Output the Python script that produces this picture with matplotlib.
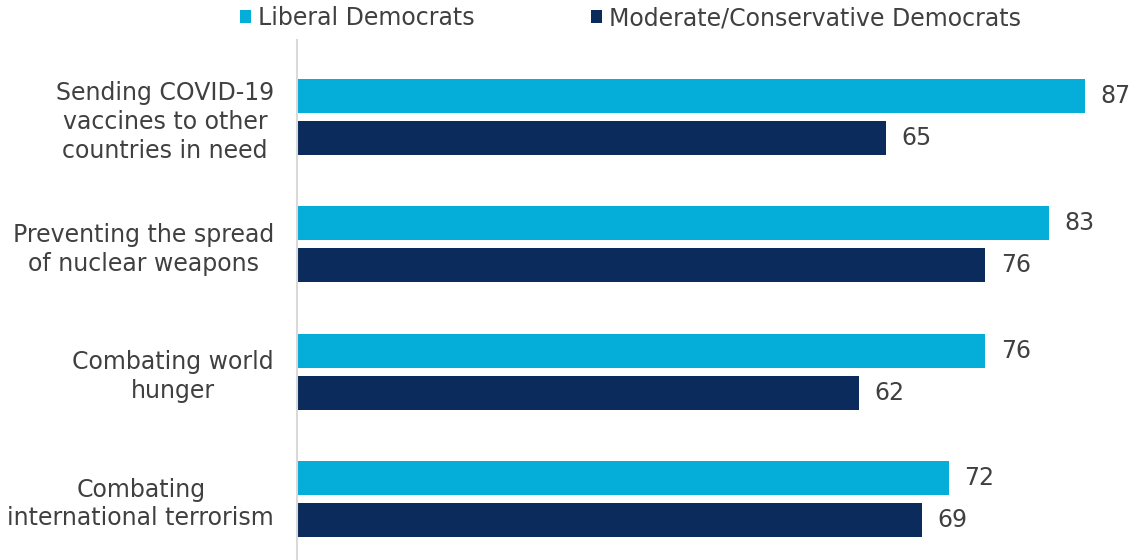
import matplotlib.pyplot as plt
import matplotlib.transforms as mtransforms
import numpy as np

plt.rcParams['font.family'] = ['DejaVu Sans']

# survey topics and shares (%)
topics = ["Sending COVID-19\nvaccines to other\ncountries in need",
          "Preventing the spread\nof nuclear weapons",
          "Combating world\nhunger",
          "Combating\ninternational terrorism"]
liberal = [87, 83, 76, 72]
moderate = [65, 76, 62, 69]

light_blue = "#05ADD9"
navy = "#0A2B5C"
text_col = "#404040"
fs = 17

fig = plt.figure(figsize=(11.34, 5.6), dpi=100)
ax = fig.add_axes([297 / 1134, 0, 837 / 1134, 520 / 560])

y = np.arange(len(topics))
off = 0.165
h = 0.267
ax.barh(y - off, liberal, height=h, color=light_blue, label="Liberal Democrats")
ax.barh(y + off, moderate, height=h, color=navy, label="Moderate/Conservative Democrats")

for yi, v in zip(y, liberal):
    ax.text(v + 1.7, yi - off, str(v), va="center", ha="left", fontsize=fs, color=text_col)
for yi, v in zip(y, moderate):
    ax.text(v + 1.7, yi + off, str(v), va="center", ha="left", fontsize=fs, color=text_col)

ax.set_xlim(0, 92.4)
ax.set_ylim(3 + 0.478, -0.604)
ax.set_yticks(y)
ax.set_yticklabels(topics, fontsize=fs, color=text_col, linespacing=1.25,
                   multialignment="center")
# nudge the category labels up a little
shift = mtransforms.ScaledTranslation(0, 3 / 72, fig.dpi_scale_trans)
for lbl in ax.get_yticklabels():
    lbl.set_transform(lbl.get_transform() + shift)
ax.tick_params(axis="y", length=0, pad=16.5)
ax.set_xticks([])
for s in ["top", "right", "bottom"]:
    ax.spines[s].set_visible(False)
ax.spines["left"].set_color("#D9D9D9")
ax.spines["left"].set_linewidth(1.5)

fig.legend(loc="upper center", bbox_to_anchor=(0.556, 1.027), ncol=2, frameon=False,
           fontsize=fs, labelcolor=text_col, handlelength=0.47, handleheight=0.47,
           handletextpad=0.3, columnspacing=4.9)

fig.savefig("out.png", dpi=100)
